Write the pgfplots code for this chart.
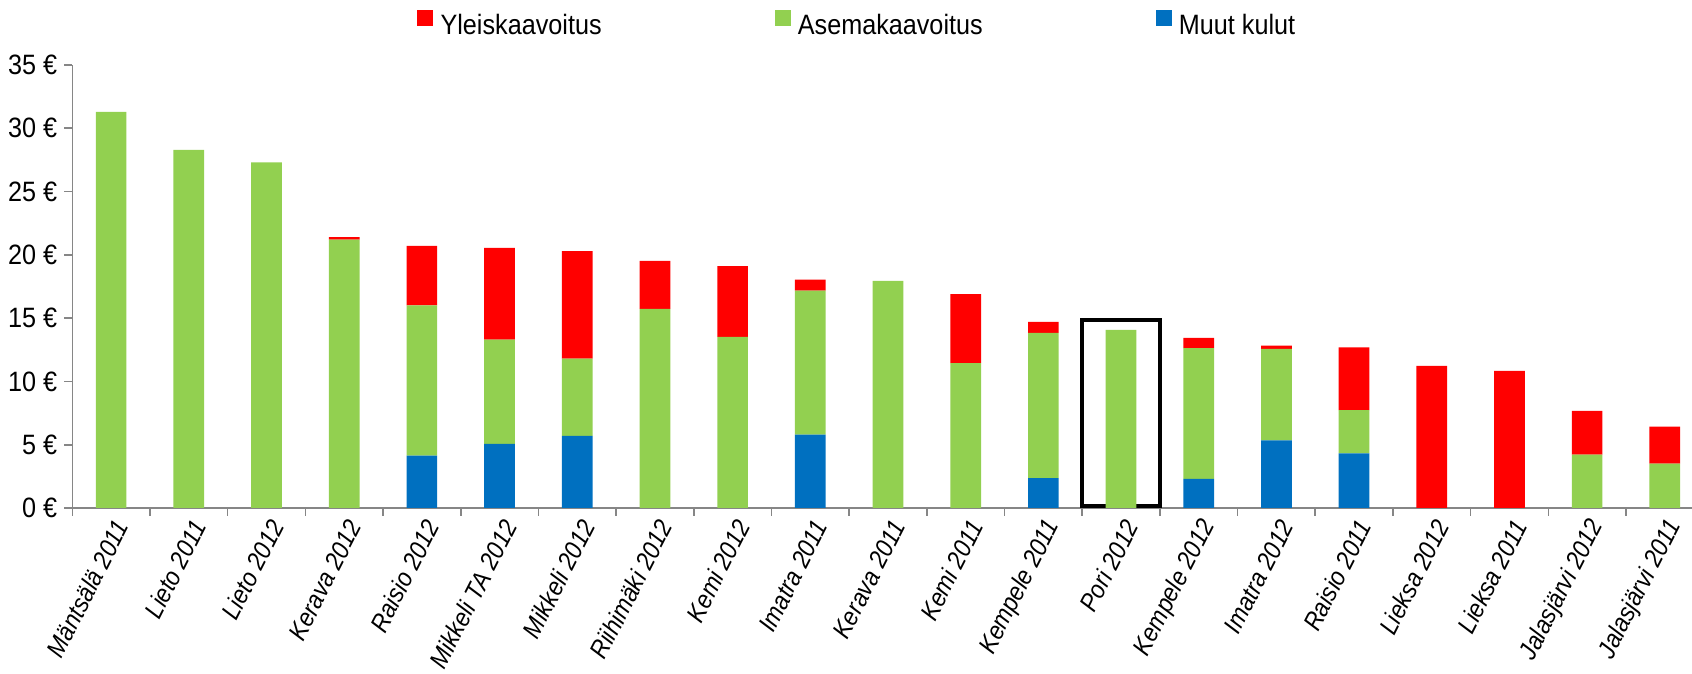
\documentclass[border=0pt]{standalone}
\usepackage{fontspec}
\setmainfont{Liberation Sans}[FakeStretch=0.9]
\newfontfamily\itlab{Liberation Sans Italic}[FakeStretch=0.9]
\usepackage{pgfplots}
\usepackage{pgfplotstable}
\pgfplotsset{compat=1.18}
\definecolor{cred}{HTML}{FF0000}
\definecolor{cgreen}{HTML}{92D050}
\definecolor{cblue}{HTML}{0070C0}
\definecolor{caxis}{HTML}{868686}
\pgfplotstableread{
x blue green red
0 0 31.3 0
1 0 28.3 0
2 0 27.3 0
3 0 21.2 0.2
4 4.13 11.87 4.7
5 5.07 8.23 7.25
6 5.7 6.1 8.5
7 0 15.73 3.79
8 0 13.52 5.58
9 5.79 11.39 0.87
10 0 17.94 0
11 0 11.44 5.45
12 2.37 11.47 0.86
13 0 14.07 0
14 2.31 10.32 0.81
15 5.34 7.23 0.26
16 4.31 3.42 4.97
17 0 0 11.23
18 0 0 10.84
19 0 4.21 3.47
20 0 3.5 2.92
}\data
\begin{document}
\begin{tikzpicture}
\begin{axis}[
 at={(36.15pt,83pt)}, anchor=south west,
 scale only axis, width=809.85pt, height=221.5pt,
 xmin=-0.5, xmax=20.35, ymin=0, ymax=35,
 ybar stacked, bar width=0.395,
 axis x line*=bottom, axis y line*=left,
 axis line style={caxis, line width=0.8pt},
 ytick={0,5,...,35},
 yticklabels={0 €,5 €,10 €,15 €,20 €,25 €,30 €,35 €},
 xtick={0,...,20},
 xticklabels={Mäntsälä 2011,Lieto 2011,Lieto 2012,Kerava 2012,Raisio 2012,Mikkeli TA 2012,Mikkeli 2012,Riihimäki 2012,Kemi 2012,Imatra 2011,Kerava 2011,Kemi 2011,Kempele 2011,Pori 2012,Kempele 2012,Imatra 2012,Raisio 2011,Lieksa 2012,Lieksa 2011,Jalasjärvi 2012,Jalasjärvi 2011},
 minor xtick={-0.5,0.5,...,19.5},
 tick align=outside, major tick length=4pt, minor tick length=4pt,
 tick style={caxis, line width=0.8pt},
 major x tick style={draw=none},
 xticklabel style={font=\itlab\fontsize{12.8}{14}\selectfont, rotate=63, anchor=east, inner sep=0pt, yshift=-6pt},
 yticklabel style={font=\fontsize{14}{16}\selectfont},
 legend columns=3,
 legend image code/.code={\fill[#1] (0pt,0pt) rectangle (8pt,8pt);},
 legend style={at={(0.2128,1.052)}, anchor=south west, draw=none, fill=none, inner sep=0pt,
   font=\fontsize{14}{16}\selectfont,
   /tikz/every odd column/.append style={column sep=1.6pt},
   /tikz/every even column/.append style={column sep=84.5pt}},
 clip=false,
]
\addplot[fill=cblue, draw=none, forget plot] table[x=x,y=blue]{\data};
\addplot[fill=cgreen, draw=none, forget plot] table[x=x,y=green]{\data};
\addplot[fill=cred, draw=none, forget plot] table[x=x,y=red]{\data};
\addlegendimage{fill=cred, draw=none}
\addlegendentry{Yleiskaavoitus}
\addlegendimage{fill=cgreen, draw=none}
\addlegendentry{Asemakaavoitus}
\addlegendimage{fill=cblue, draw=none}
\addlegendentry{Muut kulut}
\draw[black, line width=2pt] (axis cs:12.5,0.18) rectangle (axis cs:13.5,14.86);
\end{axis}
\pgfresetboundingbox
\useasboundingbox (0,0) rectangle (846pt,337pt);
\end{tikzpicture}
\end{document}
